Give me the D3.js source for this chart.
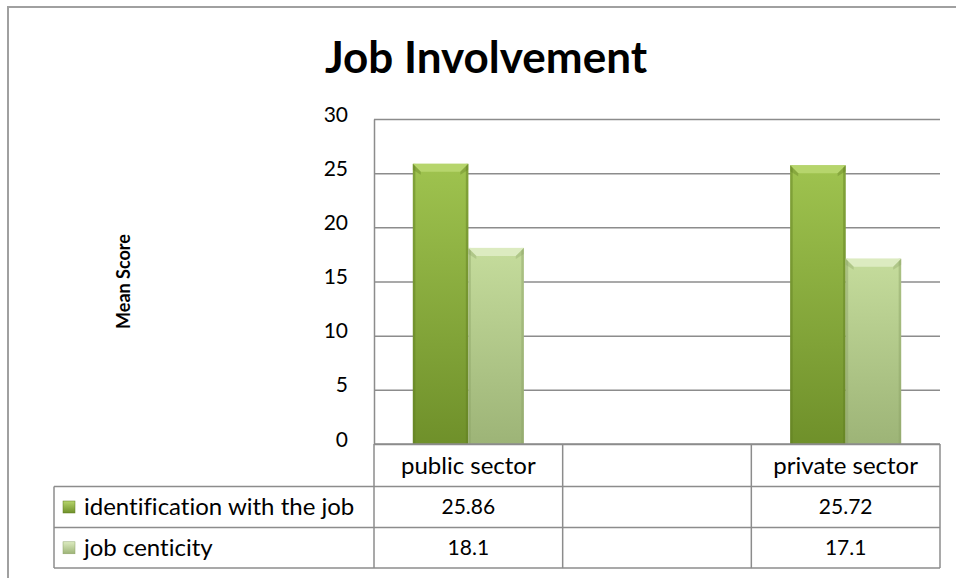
<!DOCTYPE html>
<html>
<head>
<meta charset="utf-8">
<script src="https://cdn.jsdelivr.net/npm/d3@7/dist/d3.min.js"></script>
<style>
  body { margin: 0; background: #fff; }
  svg { display: block; font-family: Lato, "Open Sans", sans-serif; font-variant-ligatures: none; }
</style>
</head>
<body>
<svg id="chart" width="956" height="578"></svg>
<script>
// chart data
const categories = ["public sector", "", "private sector"];
const seriesNames = ["identification with the job", "job centicity"];
const identificationValues = [25.86, null, 25.72];
const centicityValues = [18.1, null, 17.1];
const yTicks = [0, 5, 10, 15, 20, 25, 30];

const series = [
  { name: seriesNames[0], values: identificationValues, top: "#9fc34f", bottom: "#6f902a", bevel: "#b6d56c", edge: "#5f7c22" },
  { name: seriesNames[1], values: centicityValues, top: "#c5dc9c", bottom: "#9db477", bevel: "#dcebc0", edge: "#8ca267" }
];

const width = 956, height = 578;
const margin = { top: 119, right: 16, bottom: 134, left: 374 };
const plotW = width - margin.left - margin.right;
const plotH = height - margin.top - margin.bottom;
const gridColor = "#8c8c8c";
const labelSize = "24px";
const numberSize = "21px";

const svg = d3.select("#chart");

// outer frame
svg.append("rect")
  .attr("x", 8).attr("y", 7)
  .attr("width", 1000).attr("height", 1000)
  .attr("fill", "#fff")
  .attr("stroke", "#a0a0a0")
  .attr("stroke-width", 2);

// gradients
const defs = svg.append("defs");
series.forEach((s, i) => {
  const g = defs.append("linearGradient")
    .attr("id", "grad" + i)
    .attr("x1", 0).attr("y1", 0).attr("x2", 0).attr("y2", 1);
  g.append("stop").attr("offset", "0%").attr("stop-color", s.top);
  g.append("stop").attr("offset", "100%").attr("stop-color", s.bottom);
  const k = defs.append("linearGradient")
    .attr("id", "key" + i)
    .attr("x1", 0).attr("y1", 0).attr("x2", 0).attr("y2", 1);
  k.append("stop").attr("offset", "0%").attr("stop-color", s.bevel);
  k.append("stop").attr("offset", "100%").attr("stop-color", s.bottom);
});

// title
svg.append("text")
  .attr("x", 486).attr("y", 73)
  .attr("text-anchor", "middle")
  .style("font-size", "44px")
  .style("font-weight", "bold")
  .text("Job Involvement");

// y axis title
svg.append("text")
  .attr("transform", `translate(130, ${margin.top + plotH / 2}) rotate(-90)`)
  .attr("text-anchor", "middle")
  .style("font-size", "18px")
  .style("font-weight", "bold")
  .text("Mean Score");

const g = svg.append("g").attr("transform", `translate(${margin.left}, ${margin.top})`);

const x = d3.scaleBand().domain(categories).range([0, plotW]);
const x1 = d3.scaleBand().domain(seriesNames).range([0, x.bandwidth()]).paddingInner(0).paddingOuter(0.7);
const y = d3.scaleLinear().domain([0, 30]).range([plotH, 0]);

// gridlines + y axis
const yAxis = g.append("g")
  .call(d3.axisLeft(y).tickValues(yTicks).tickSizeInner(-plotW).tickSizeOuter(0).tickPadding(26));
yAxis.select(".domain").attr("stroke", gridColor).attr("stroke-width", 1.5);
yAxis.selectAll(".tick line").attr("stroke", gridColor).attr("stroke-width", 1.5);
yAxis.selectAll(".tick text")
  .attr("fill", "#000")
  .style("font-size", numberSize)
  .style("font-family", "Lato, sans-serif")
  .attr("dy", "0.1em");

// bars
series.forEach((s, si) => {
  const bars = g.append("g").selectAll("g.bar")
    .data(s.values.map((v, i) => ({ cat: categories[i], v })).filter(d => d.v != null))
    .join("g")
    .attr("class", "bar")
    .attr("transform", d => `translate(${x(d.cat) + x1(s.name)}, 0)`);
  const bw = x1.bandwidth();
  const bev = 8;
  bars.append("rect")
    .attr("x", 0).attr("y", d => y(d.v))
    .attr("width", bw).attr("height", d => y(0) - y(d.v))
    .attr("fill", `url(#grad${si})`);
  // darker side edges
  bars.append("rect")
    .attr("x", 0).attr("y", d => y(d.v))
    .attr("width", 2.5).attr("height", d => y(0) - y(d.v))
    .attr("fill", s.edge).attr("opacity", 0.45);
  bars.append("rect")
    .attr("x", bw - 2.5).attr("y", d => y(d.v))
    .attr("width", 2.5).attr("height", d => y(0) - y(d.v))
    .attr("fill", s.edge).attr("opacity", 0.45);
  // top bevel
  bars.append("path")
    .attr("d", d => {
      const t = y(d.v);
      return `M0,${t}L${bw},${t}L${bw - bev},${t + bev}L${bev},${t + bev}Z`;
    })
    .attr("fill", s.bevel);
  bars.append("path")
    .attr("d", d => {
      const t = y(d.v);
      return `M0,${t}L${bev},${t + bev}L${bev},${t + bev + 3}L0,${t + 6}Z`;
    })
    .attr("fill", s.edge).attr("opacity", 0.35);
  bars.append("path")
    .attr("d", d => {
      const t = y(d.v);
      return `M${bw},${t}L${bw - bev},${t + bev}L${bw - bev},${t + bev + 3}L${bw},${t + 6}Z`;
    })
    .attr("fill", s.edge).attr("opacity", 0.35);
});

// data table
const rowH = [42.5, 41, 40.6];
const rowY = [plotH, plotH + rowH[0], plotH + rowH[0] + rowH[1], plotH + rowH[0] + rowH[1] + rowH[2]];
const legendLeft = 54 - margin.left;
const table = g.append("g").attr("stroke", gridColor).attr("stroke-width", 1.5);

// horizontal lines
table.append("line").attr("x1", 0).attr("x2", plotW).attr("y1", rowY[0]).attr("y2", rowY[0]);
[1, 2, 3].forEach(r => {
  table.append("line").attr("x1", legendLeft).attr("x2", plotW).attr("y1", rowY[r]).attr("y2", rowY[r]);
});
// vertical lines
categories.forEach(c => {
  table.append("line").attr("x1", x(c)).attr("x2", x(c)).attr("y1", rowY[0]).attr("y2", rowY[3]);
});
table.append("line").attr("x1", plotW).attr("x2", plotW).attr("y1", rowY[0]).attr("y2", rowY[3]);
table.append("line").attr("x1", legendLeft).attr("x2", legendLeft).attr("y1", rowY[1]).attr("y2", rowY[3]);

// header labels
g.append("g").selectAll("text")
  .data(categories)
  .join("text")
  .attr("x", d => x(d) + x.bandwidth() / 2)
  .attr("y", rowY[0] + rowH[0] / 2)
  .attr("dy", "0.35em")
  .attr("text-anchor", "middle")
  .style("font-size", labelSize)
  .text(d => d);

// value rows
series.forEach((s, si) => {
  const cy = rowY[si + 1] + rowH[si + 1] / 2;
  g.append("g").selectAll("text")
    .data(s.values.map((v, i) => ({ cat: categories[i], v })).filter(d => d.v != null))
    .join("text")
    .attr("x", d => x(d.cat) + x.bandwidth() / 2)
    .attr("y", cy)
    .attr("dy", "0.35em")
    .attr("text-anchor", "middle")
    .style("font-size", numberSize)
    .text(d => d.v);
  // legend key
  g.append("rect")
    .attr("x", legendLeft + 9).attr("y", cy - 6)
    .attr("width", 12).attr("height", 12)
    .attr("fill", `url(#key${si})`)
    .attr("stroke", s.edge).attr("stroke-width", 0.5);
  g.append("text")
    .attr("x", legendLeft + 30).attr("y", cy)
    .attr("dy", "0.35em")
    .style("font-size", labelSize)
    .text(s.name);
});
</script>
</body>
</html>
